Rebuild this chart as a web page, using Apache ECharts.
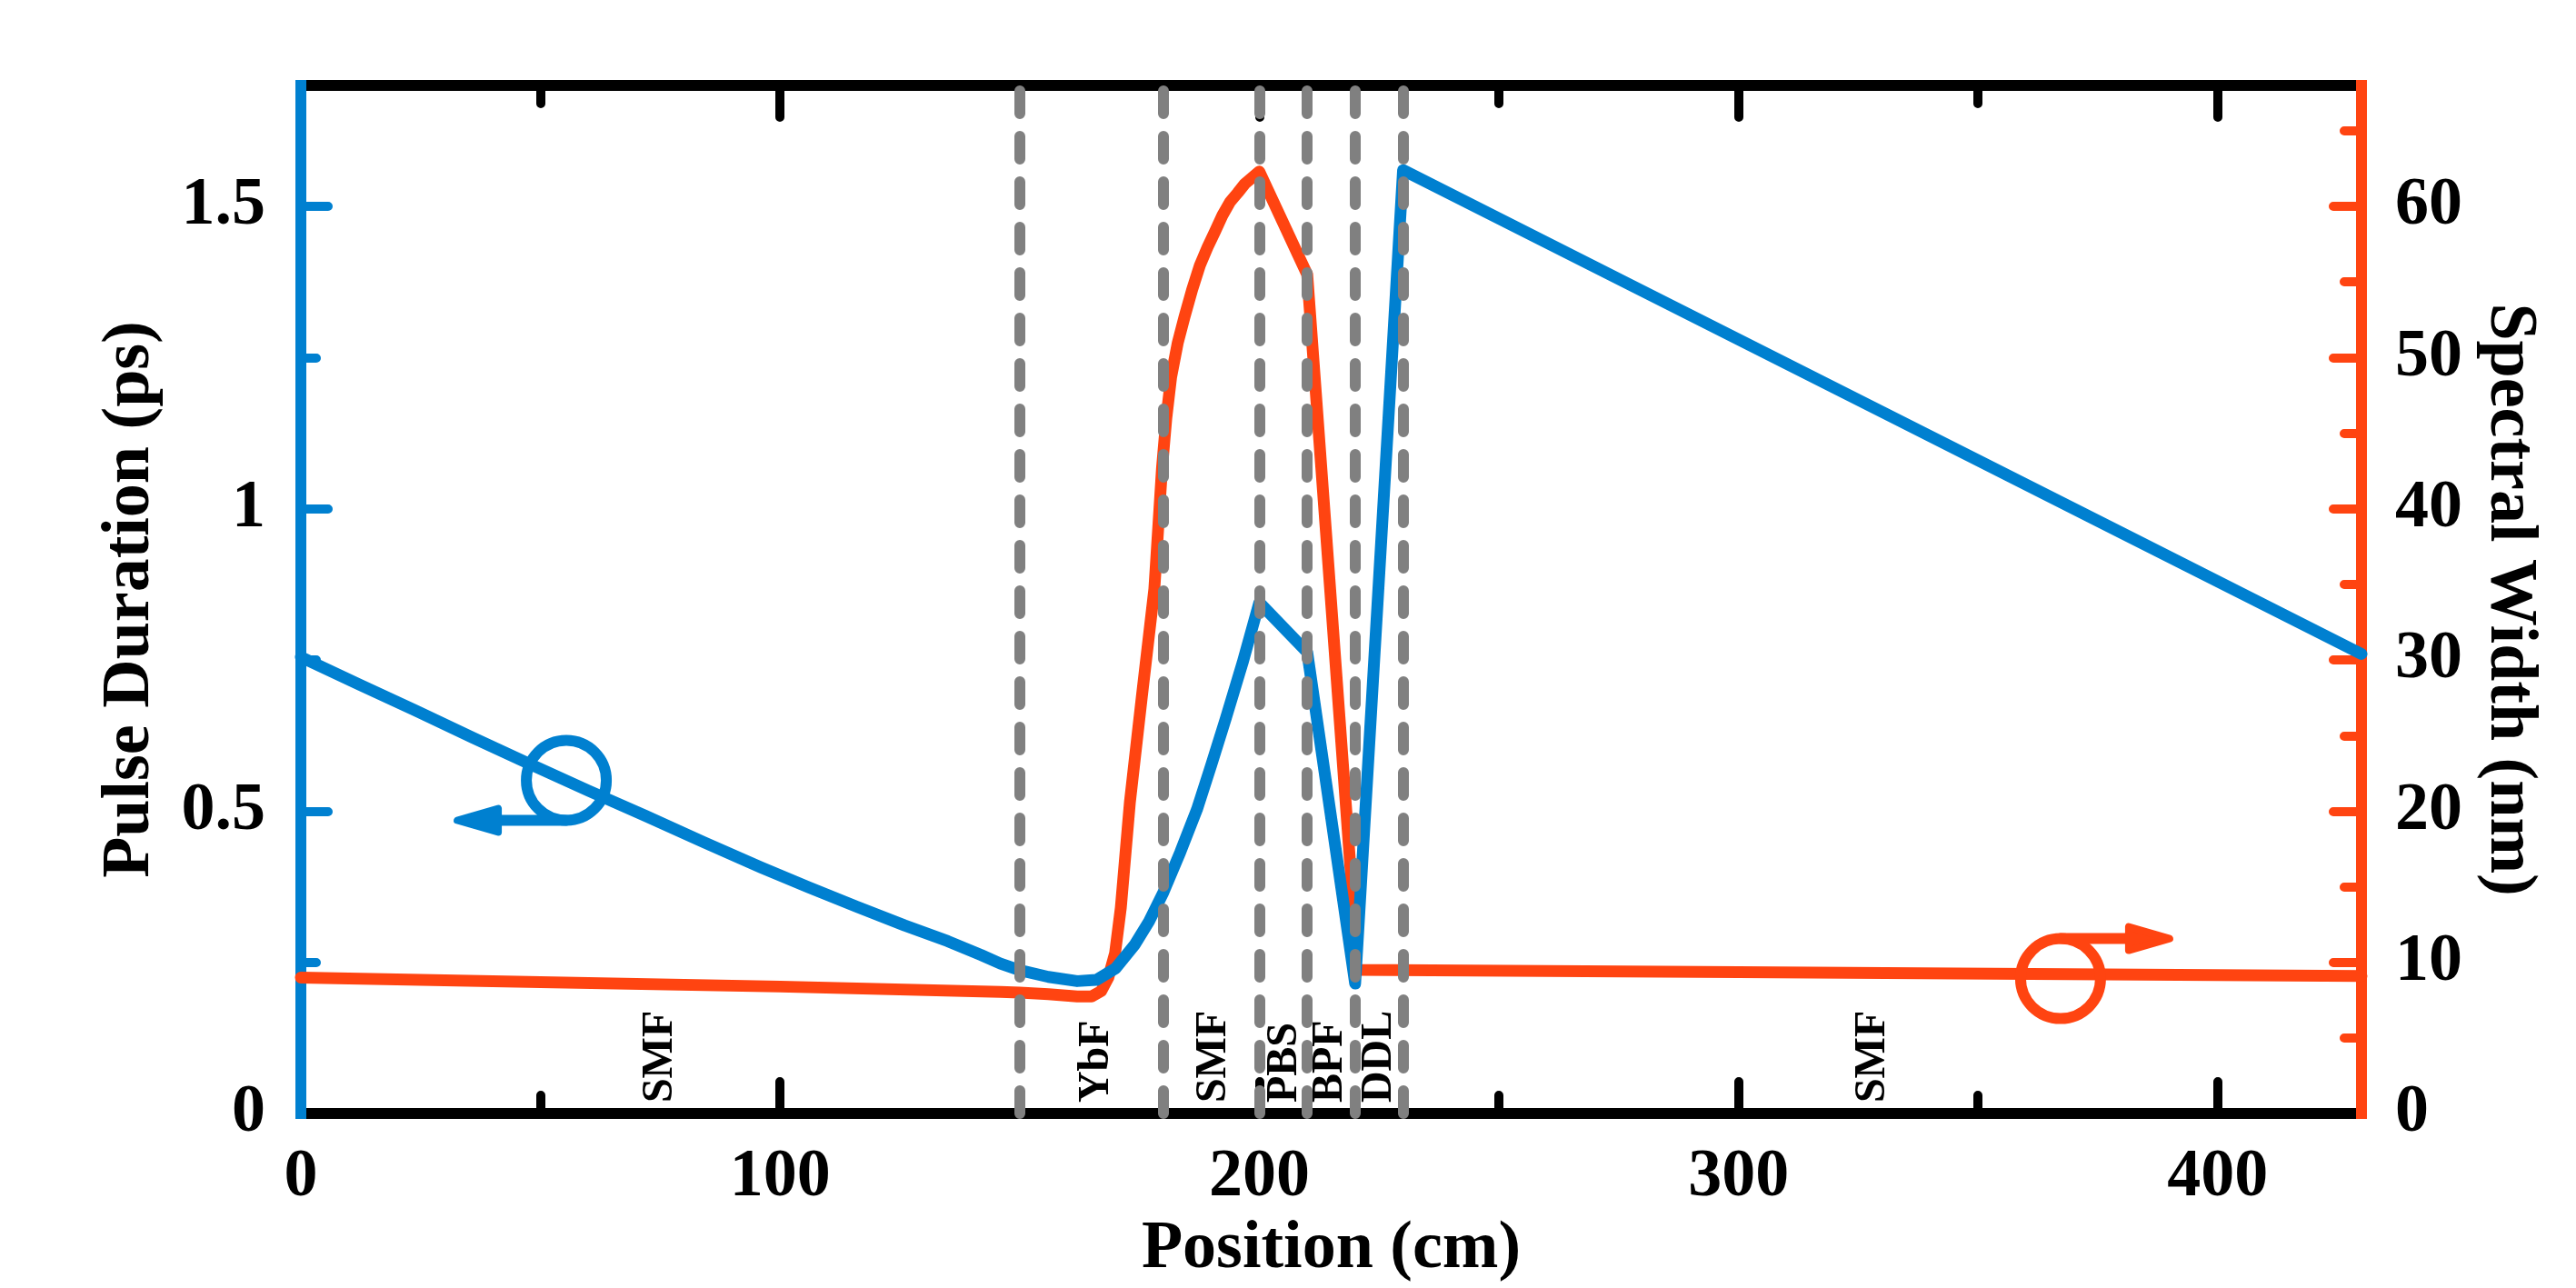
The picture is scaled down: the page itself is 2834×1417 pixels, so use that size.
<!DOCTYPE html>
<html>
<head>
<meta charset="utf-8">
<script src="https://cdn.jsdelivr.net/npm/echarts@6/dist/echarts.min.js"></script>
<style>
html,body{margin:0;padding:0;background:#fff}
#chart{width:2834px;height:1417px}
</style>
</head>
<body>
<div id="chart"></div>
<script>
// pulse duration (ps), left axis
var posBlue = [0, 12, 24, 36, 48, 60, 72, 84, 96, 106, 116, 126, 135, 142, 146, 150, 156, 162, 166, 170, 174, 177, 180, 183.5, 187, 190, 193, 196.5, 200, 210, 220, 230, 280, 330, 380, 430];
var pulseDuration = [0.755, 0.710, 0.666, 0.621, 0.577, 0.534, 0.492, 0.449, 0.407, 0.374, 0.342, 0.311, 0.285, 0.262, 0.248, 0.237, 0.226, 0.219, 0.221, 0.240, 0.279, 0.318, 0.366, 0.432, 0.503, 0.577, 0.653, 0.745, 0.845, 0.763, 0.215, 1.56, 1.36, 1.16, 0.96, 0.76];
// spectral width (nm), right axis
var posRed = [0, 50, 100, 146, 150, 156, 162, 165, 167, 168.5, 169.9, 171.1, 173, 175.5, 178.1, 179.7, 180.6, 181.6, 183, 184.4, 186, 187.6, 189.2, 190.7, 192.3, 193.9, 195.5, 197, 198.5, 200, 210, 220, 220, 300, 430];
var spectralWidth = [9.0, 8.7, 8.4, 8.05, 8.0, 7.9, 7.75, 7.75, 8.1, 9.0, 10.6, 13.6, 20.6, 27.6, 34.7, 42.7, 46.0, 48.7, 51.0, 52.7, 54.5, 56.1, 57.3, 58.3, 59.4, 60.3, 60.9, 61.5, 61.9, 62.3, 55.5, 12, 9.5, 9.35, 9.1];

var boundaries = [150, 180, 200, 210, 220, 230];
var sectionNames = ['SMF', 'YbF', 'SMF', 'PBS', 'BPF', 'DDL', 'SMF'];
var sectionPos = [75, 166, 190.5, 205.3, 214.8, 225, 328];

var xLabels = [0, 100, 200, 300, 400];
var xMajor = [100, 200, 300, 400];
var xMinor = [50, 150, 250, 350];
var leftLabels = [0, 0.5, 1, 1.5];
var leftMajor = [0.5, 1, 1.5];
var leftMinor = [0.25, 0.75, 1.25];
var rightLabels = [0, 10, 20, 30, 40, 50, 60];
var rightMajor = [10, 20, 30, 40, 50, 60];
var rightMinor = [5, 15, 25, 35, 45, 55, 65];

var BLUE = '#0080D0';
var RED = '#FF4411';
var GREY = '#808080';
var FONT = 'Liberation Serif';

function zip(a, b) {
	return a.map(function (v, i) { return [v, b[i]]; });
}

function tickAxis(pos, min, max, values, len, color, extra) {
	var ax = {
		type: 'value', position: pos, min: min, max: max, z: 1,
		axisLine: {show: false, onZero: false},
		axisTick: {show: true, inside: true, length: len, customValues: values,
			lineStyle: {color: color, width: 10, cap: 'round'}},
		axisLabel: {show: false},
		splitLine: {show: false}
	};
	if (extra) { for (var k in extra) ax[k] = extra[k]; }
	return ax;
}

var labelFont = {fontFamily: FONT, fontWeight: 'bold', fontSize: 74, color: '#000'};

function line(color) {
	return {show: true, onZero: false, lineStyle: {color: color, width: 12, cap: 'square'}};
}

var xAxes = [
	tickAxis('bottom', 0, 430, xMajor, 35, '#000', {
		axisLine: line('#000'),
		axisLabel: Object.assign({show: true, margin: 34, customValues: xLabels}, labelFont),
		name: 'Position (cm)', nameLocation: 'middle', nameGap: 100,
		nameTextStyle: labelFont
	}),
	tickAxis('bottom', 0, 430, xMinor, 20, '#000'),
	tickAxis('top', 0, 430, xMajor, 35, '#000', {axisLine: line('#000')}),
	tickAxis('top', 0, 430, xMinor, 20, '#000')
];

var yAxes = [
	tickAxis('left', 0, 1.7, leftMajor, 30, BLUE, {
		z: 2,
		axisLine: line(BLUE),
		axisLabel: Object.assign({show: true, margin: 39, customValues: leftLabels}, labelFont),
		name: 'Pulse Duration (ps)', nameLocation: 'middle', nameGap: 150,
		nameTextStyle: labelFont
	}),
	tickAxis('left', 0, 1.7, leftMinor, 17, BLUE, {z: 2}),
	tickAxis('right', 0, 68, rightMajor, 31, RED, {
		z: 2,
		axisLine: line(RED),
		axisLabel: Object.assign({show: true, margin: 37, customValues: rightLabels}, labelFont),
		name: 'Spectral Width (nm)', nameLocation: 'middle', nameGap: 125, nameRotate: -90,
		nameTextStyle: labelFont
	}),
	tickAxis('right', 0, 68, rightMinor, 19, RED, {z: 2})
];

var myChart = echarts.init(document.getElementById('chart'));
var option = {
	animation: false,
	backgroundColor: '#fff',
	grid: {left: 331, right: 236, top: 94, bottom: 189},
	xAxis: xAxes,
	yAxis: yAxes,
	series: [
		{
			name: 'Spectral Width', type: 'line', xAxisIndex: 0, yAxisIndex: 2, z: 3,
			data: zip(posRed, spectralWidth), showSymbol: false, symbol: 'none',
			lineStyle: {color: RED, width: 13, join: 'round', cap: 'round'}
		},
		{
			name: 'Pulse Duration', type: 'line', xAxisIndex: 0, yAxisIndex: 0, z: 4,
			data: zip(posBlue, pulseDuration), showSymbol: false, symbol: 'none',
			lineStyle: {color: BLUE, width: 13, join: 'round', cap: 'round'}
		},
		{
			name: 'bounds', type: 'line', xAxisIndex: 0, yAxisIndex: 0, z: 5, data: [],
			markLine: {
				silent: true, symbol: ['none', 'none'], label: {show: false},
				lineStyle: {color: GREY, width: 12, type: [25, 25], cap: 'round'},
				data: boundaries.map(function (b) { return {xAxis: b}; })
			}
		},
		{
			name: 'sections', type: 'custom', xAxisIndex: 0, yAxisIndex: 0, z: 6,
			data: sectionPos.map(function (p) { return [p, 0.018]; }),
			renderItem: function (params, api) {
				var pt = api.coord([api.value(0), api.value(1)]);
				return {
					type: 'text', x: pt[0], y: pt[1], rotation: Math.PI / 2,
					style: {text: sectionNames[params.dataIndex], fill: '#000',
						font: 'bold 48px "' + FONT + '"', align: 'left', verticalAlign: 'middle'}
				};
			}
		}
	]
};
myChart.setOption(option);

// circle + arrow markers telling which axis each curve uses
function marker(center, yIdx, color, dir) {
	var c = myChart.convertToPixel({xAxisIndex: 0, yAxisIndex: yIdx}, center);
	var r = 44;
	var ly = dir < 0 ? c[1] + r : c[1] - r;
	var tx = c[0] + dir * 120;
	return [
		{type: 'circle', z: 10, shape: {cx: c[0], cy: c[1], r: r},
			style: {fill: 'none', stroke: color, lineWidth: 12}},
		{type: 'polyline', z: 10, shape: {points: [[c[0], ly], [tx - dir * 20, ly]]},
			style: {stroke: color, lineWidth: 12, lineCap: 'round', fill: 'none'}},
		{type: 'polygon', z: 10, shape: {points: [[tx, ly], [tx - dir * 45, ly - 13], [tx - dir * 45, ly + 13]]},
			style: {fill: color, stroke: color, lineWidth: 8, lineJoin: 'round'}}
	];
}
myChart.setOption({
	graphic: marker([55.4, 0.551], 0, BLUE, -1).concat(marker([367.2, 8.93], 2, RED, 1))
});
</script>
</body>
</html>
